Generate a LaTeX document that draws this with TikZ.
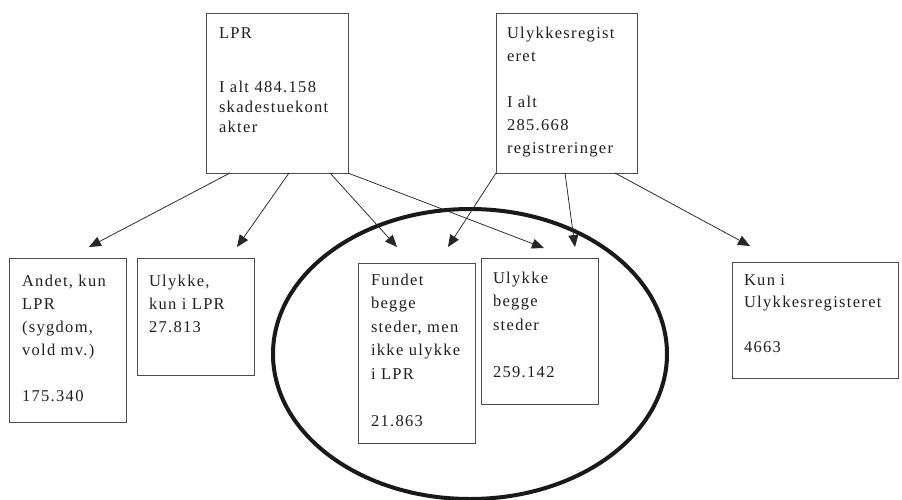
\documentclass[tikz,border=0pt]{standalone}
\usepackage{fontspec}
\setmainfont{Liberation Serif}[LetterSpace=8]
\usetikzlibrary{arrows.meta,shapes.geometric}
\newcommand\boxlines[2]{\parbox[t]{160pt}{\raggedright\baselineskip=#1 #2}}
\begin{document}
\begin{tikzpicture}[x=1pt,y=-1pt,
  box/.style={draw=black!70, line width=0.9pt, anchor=north west, inner sep=0pt, outer sep=0pt},
  txt/.style={anchor=base west, inner sep=0pt, outer sep=0pt, font=\fontsize{16.5}{23}\selectfont, text=black!88},
  arr/.style={draw=black!85, line width=0.75pt, -{Triangle[length=12pt,width=10pt]}},
  ring/.style={draw=black!90, ellipse, line width=4pt, inner sep=0pt}]
\useasboundingbox[fill=white] (0,0) rectangle (902,499);

\node[ring, minimum width=394pt, minimum height=290pt] (ring) at (470,354) {};

\node[box, minimum width=142pt, minimum height=160pt] (lpr) at (206,13) {};
\node[box, minimum width=141pt, minimum height=160pt] (ulr) at (496,13) {};
\node[box, minimum width=117pt, minimum height=164pt] (andet) at (9,258) {};
\node[box, minimum width=117pt, minimum height=117pt] (ukun) at (137,258) {};
\node[box, minimum width=117pt, minimum height=180pt] (fundet) at (358,263) {};
\node[box, minimum width=117pt, minimum height=146pt] (begge) at (481,258) {};
\node[box, minimum width=166pt, minimum height=116pt] (kun) at (732,262) {};

\node[txt] (lprt) at (219,38) {\boxlines{20pt}{LPR\\[34pt]I alt 484.158\\skadestuekont\\akter}};
\node[txt] (ulrt) at (507,38) {\boxlines{23pt}{Ulykkesregist\\eret\\[23pt]I alt\\285.668\\registreringer}};
\node[txt] (andett) at (22,286) {\boxlines{23pt}{Andet, kun\\LPR\\(sygdom,\\vold mv.)\\[23pt]175.340}};
\node[txt] (ukunt) at (149,286) {\boxlines{23pt}{Ulykke,\\kun i LPR\\27.813}};
\node[txt] (fundett) at (371,285) {\boxlines{23.5pt}{Fundet\\begge\\steder, men\\ikke ulykke\\i LPR\\[23.5pt]21.863}};
\node[txt] (beggett) at (493,283) {\boxlines{23.5pt}{Ulykke\\begge\\steder\\[23.5pt]259.142}};
\node[txt] (kunt) at (744,285) {\boxlines{22.5pt}{Kun i\\Ulykkesregisteret\\[22.5pt]4663}};

\draw[arr] ([xshift=24pt]lpr.south west) -- ([xshift=80pt,yshift=11pt]andet.north west);
\draw[arr] ([xshift=83pt]lpr.south west) -- ([xshift=100pt,yshift=11pt]ukun.north west);
\draw[arr] ([xshift=124pt]lpr.south west) -- ([xshift=39pt,yshift=16pt]fundet.north west);
\draw[arr] (lpr.south east) -- ([xshift=63pt,yshift=10pt]begge.north west);
\draw[arr] (ulr.south west) -- ([xshift=90pt,yshift=16pt]fundet.north west);
\draw[arr] ([xshift=69pt]ulr.south west) -- ([xshift=94pt,yshift=11pt]begge.north west);
\draw[arr] ([xshift=119pt]ulr.south west) -- ([xshift=18pt,yshift=16pt]kun.north west);
\end{tikzpicture}
\end{document}
